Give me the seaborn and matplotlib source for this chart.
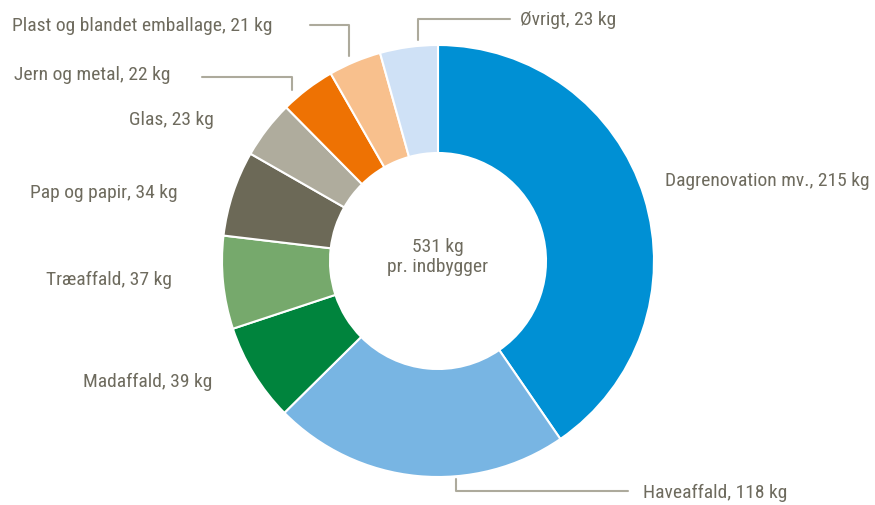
import matplotlib
matplotlib.use("Agg")
import matplotlib.pyplot as plt
import seaborn as sns

categories = ["Dagrenovation mv.", "Haveaffald", "Madaffald", "Træaffald", "Pap og papir",
              "Glas", "Jern og metal", "Plast og blandet emballage", "Øvrigt"]
values = [215, 118, 39, 37, 34, 23, 22, 21, 23]
colors = ["#0090D4", "#78B5E3", "#00843D", "#76A96C", "#6C6957",
          "#AFAC9D", "#EE7203", "#F8C08D", "#CFE1F6"]
total_label = "531 kg\npr. indbygger"

sns.set_theme(style="white")
plt.rcParams['font.family'] = ['Roboto Condensed', 'Archivo Narrow', 'Liberation Sans', 'DejaVu Sans']

W, H = 875, 506
fig = plt.figure(figsize=(W / 100, H / 100), dpi=100)
ax = fig.add_axes([0, 0, 1, 1])
ax.set_xlim(0, W)
ax.set_ylim(0, H)
ax.set_aspect('equal')
ax.axis('off')

cx, cy = 438, H - 262
ax.pie(values, colors=colors, startangle=90, counterclock=False,
       center=(cx, cy), radius=216,
       wedgeprops=dict(width=108, edgecolor='white', linewidth=1.5))
ax.set_xlim(0, W)
ax.set_ylim(0, H)

tc = "#6E6B5E"
lc = "#ADAA9C"
fs = 14

def Y(y):
    return H - y

labels = [f"{c}, {v} kg" for c, v in zip(categories, values)]
pos = {
    0: (665, 181, 'left'),
    1: (643, 493, 'left'),
    2: (212, 382, 'right'),
    3: (172, 280, 'right'),
    4: (178, 193, 'right'),
    5: (214, 120, 'right'),
    6: (170, 75, 'right'),
    7: (272, 26, 'right'),
    8: (520, 20, 'left'),
}
for i, lab in enumerate(labels):
    x, y, ha = pos[i]
    ax.text(x, Y(y), lab, ha=ha, va='center', fontsize=fs, color=tc)

ax.plot([310, 349, 349], [Y(26), Y(26), Y(57)], color=lc, lw=1.5)
ax.plot([202, 292, 292], [Y(78), Y(78), Y(91)], color=lc, lw=1.5)
ax.plot([418, 418, 510], [Y(41), Y(20), Y(20)], color=lc, lw=1.5)
ax.plot([456, 456, 628], [Y(480), Y(492), Y(492)], color=lc, lw=1.5)

ax.text(cx, Y(257), total_label, ha='center', va='center', fontsize=fs,
        color=tc, linespacing=1.1)

fig.savefig("out.png", dpi=100)
